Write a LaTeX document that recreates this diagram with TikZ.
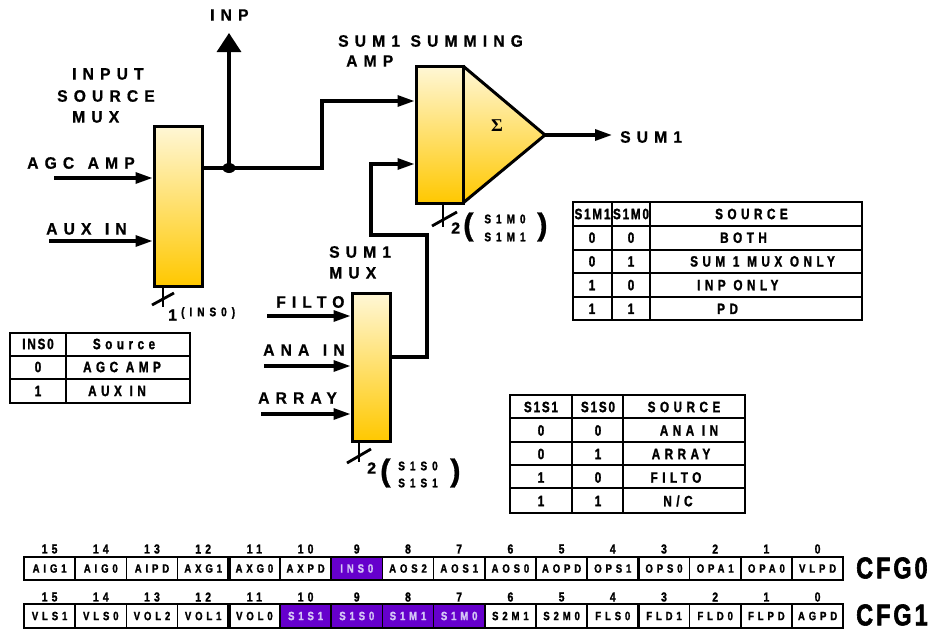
\documentclass[tikz,border=0pt]{standalone}
\usepackage{fontspec}
\setmainfont{Liberation Sans}
\newfontfamily\lblfam[LetterSpace=37,FakeStretch=0.95,FakeBold=0.8]{Liberation Sans Bold}
\newfontfamily\tblfam[LetterSpace=12,FakeStretch=0.78,FakeBold=1.5]{Liberation Sans Bold}
\newfontfamily\tbwfam[LetterSpace=30,FakeStretch=0.78,FakeBold=1.5]{Liberation Sans Bold}
\newfontfamily\regfam[LetterSpace=32,FakeStretch=0.8,FakeBold=1.5]{Liberation Sans Bold}
\newfontfamily\busfam[LetterSpace=40,FakeStretch=0.8,FakeBold=1.5]{Liberation Sans Bold}
\newfontfamily\cfgfam[LetterSpace=10,FakeStretch=0.78,FakeBold=2]{Liberation Sans Bold}
\newfontfamily\boldfam[FakeBold=1]{Liberation Sans Bold}
\newfontfamily\serfam{Liberation Serif Bold}
\newcommand\fLbl{\lblfam\fontsize{16.5}{18}\selectfont}
\newcommand\fTbl{\tblfam\fontsize{15}{16}\selectfont}
\newcommand\fTbw{\tbwfam\fontsize{15}{16}\selectfont}
\newcommand\fReg{\regfam\fontsize{12}{13}\selectfont}
\newcommand\fNum{\regfam\fontsize{13}{14}\selectfont}
\newcommand\fCfg{\cfgfam\fontsize{30}{31}\selectfont}
\newcommand\fBus{\busfam\fontsize{12.5}{14}\selectfont}
\newcommand\fBig{\boldfam\fontsize{16}{17}\selectfont}
\newcommand\fPar{\boldfam\fontsize{31}{31}\selectfont}
\usetikzlibrary{arrows.meta}
\definecolor{goldlt}{HTML}{FFF7D6}
\definecolor{golddk}{HTML}{FFC800}
\definecolor{purp}{HTML}{6600CC}
\definecolor{lav}{HTML}{D4C4F6}
\tikzset{
  muxbox/.style={draw, line width=3pt, top color=goldlt, bottom color=golddk, inner sep=0pt},
  wire/.style={line width=3.2pt},
  arr/.style={wire, -{Triangle[length=17pt,width=11pt]}},
  lbl/.style={font=\fLbl, inner sep=0pt},
  tbl/.style={font=\fTbl, inner sep=0pt},
  tbw/.style={font=\fTbw, inner sep=0pt},
  tline/.style={line width=2.2pt},
  bus/.style={line width=2.8pt},
  regcell/.style={draw, line width=1.5pt, minimum width=51.2pt, inner sep=0pt, font=\fReg},
}
\begin{document}
\begin{tikzpicture}[x=1pt,y=-1pt]
\useasboundingbox (0,0) rectangle (933,630);

% ---- summing amp
\coordinate (tip) at (545,135);
\shade[top color=goldlt, bottom color=golddk] (463,66) -- (tip) -- (463,203) -- cycle;
\draw[line width=3pt, line join=miter] (463,66) -- (tip) -- (463,203);
\node[muxbox, minimum width=47pt, minimum height=137pt] (amp) at (439.5,134.5) {};
\node (sig) at (497,126) {\serfam\fontsize{18}{18}\selectfont Σ};

% ---- muxes
\node[muxbox, minimum width=48pt, minimum height=160pt] (mux1) at (178,206) {};
\node[muxbox, minimum width=38pt, minimum height=148pt] (mux2) at (371,367) {};

% ---- titles
\node[lbl, anchor=west] (inp) at (210,15) {INP};
\node[lbl, anchor=west] (t1a) at (72,74) {INPUT};
\node[lbl, anchor=west] (t1b) at (57,96) {SOURCE};
\node[lbl, anchor=west] (t1c) at (72,117) {MUX};
\node[lbl, anchor=west] (t2a) at (338,41) {SUM1 SUMMING};
\node[lbl, anchor=west] (t2b) at (346,61) {AMP};
\node[lbl, anchor=west] (t3a) at (329,252) {SUM1};
\node[lbl, anchor=west] (t3b) at (329,273) {MUX};
\node[lbl, anchor=west] (lagc) at (27,163) {AGC\hspace{3pt} AMP};
\node[lbl, anchor=west] (laux) at (46,229) {AUX\hspace{3pt} IN};
\node[lbl, anchor=west] (lfil) at (276,302) {FILTO};
\node[lbl, anchor=west] (lana) at (263,350) {ANA\hspace{3pt} IN};
\node[lbl, anchor=west] (larr) at (258,398) {ARRAY};
\node[lbl, anchor=west] (lsum) at (620,137) {SUM1};

% ---- free ends
\coordinate (agcS) at (54,178);
\coordinate (auxS) at (49,241);
\coordinate (filS) at (267,316);
\coordinate (anaS) at (264,366);
\coordinate (arrS) at (261,414);
\coordinate (dotc) at (229,168);
\coordinate (inpE) at (229,33);
\coordinate (b1) at (322,101);
\coordinate (m2y) at (0,357);
\coordinate (k1) at (427,235);
\coordinate (k2) at (371,164);
\coordinate (sumE) at (612,135);

% ---- connectors
\draw[arr] (agcS) -- (agcS -| mux1.west);
\draw[arr] (auxS) -- (auxS -| mux1.west);
\draw[arr] (filS) -- (filS -| mux2.west);
\draw[arr] (anaS) -- (anaS -| mux2.west);
\draw[arr] (arrS) -- (arrS -| mux2.west);
\draw[arr, line join=miter] (mux1.east |- dotc) -| (b1) -- (b1 -| amp.west);
\draw[wire, -{Triangle[length=19pt,width=24pt]}] (dotc) -- (inpE);
\fill (dotc) ellipse (6.5pt and 5pt);
\draw[arr, line join=miter] (mux2.east |- m2y) -| (k1) -- (k1 -| k2) -- (k2) -- (k2 -| amp.west);
\draw[arr] (tip) -- (sumE);

% ---- bus marks
\draw[bus] (163,286) -- (163,307);
\draw[bus] (152,305) -- (174,293);
\node[inner sep=0pt, anchor=west, font=\fBig] (n1) at (168,315) {1};
\node[inner sep=0pt, anchor=west, font=\fBus] (n1b) at (181,313) {(INS0)};

\draw[bus] (443,203) -- (443,227);
\draw[bus] (432,226) -- (457,212);
\node[inner sep=0pt, anchor=west, font=\fBig] (n2) at (451,228) {2};
\node[inner sep=0pt, anchor=west, font=\fPar] (p2a) at (463,227) {(};
\node[inner sep=0pt, font=\fBus] (n2a) at (505,219) {S1M0};
\node[inner sep=0pt, font=\fBus] (n2b) at (505,237) {S1M1};
\node[inner sep=0pt, anchor=west, font=\fPar] (p2b) at (537,227) {)};

\draw[bus] (359,441) -- (359,462);
\draw[bus] (347,463) -- (371,449);
\node[inner sep=0pt, anchor=west, font=\fBig] (n3) at (367,468) {2};
\node[inner sep=0pt, anchor=west, font=\fPar] (p3a) at (380,473) {(};
\node[inner sep=0pt, font=\fBus] (n3a) at (418,466) {S1S0};
\node[inner sep=0pt, font=\fBus] (n3b) at (418,483) {S1S1};
\node[inner sep=0pt, anchor=west, font=\fPar] (p3b) at (450,473) {)};

% ---- INS0 table
\draw[tline] (10,333) rectangle (190,403);
\draw[tline] (10,356) -- (190,356) (10,379) -- (190,379) (66,333) -- (66,403);
\node[tbl] (ia) at (38,344) {INS0};
\node[tbw] (ib) at (124,344) {Source};
\node[tbl] (ic) at (38,367) {0};
\node[tbw] (id) at (122,367) {AGC AMP};
\node[tbl] (ie) at (38,391) {1};
\node[tbw] (iff) at (117,391) {AUX IN};

% ---- S1M table
\draw[tline] (573,202) rectangle (862,320);
\foreach \yy in {226,250,273,297} \draw[tline] (573,\yy) -- (862,\yy);
\draw[tline] (612,202) -- (612,320) (650,202) -- (650,320);
\node[tbl] (ma) at (592.5,214) {S1M1};
\node[tbl] (mb) at (631,214) {S1M0};
\node[tbw, anchor=west] (mc) at (715,214) {SOURCE};
\foreach \r/\a/\b/\x/\t in {1/0/0/720/BOTH, 2/0/1/690/SUM 1 MUX ONLY, 3/1/0/697/INP ONLY, 4/1/1/717/PD}{
  \node[tbl] (ma\r) at (592,{214+23.7*\r}) {\a};
  \node[tbl] (mb\r) at (631,{214+23.7*\r}) {\b};
  \node[tbw, anchor=west] (mc\r) at (\x,{214+23.7*\r}) {\t};
}

% ---- S1S table
\draw[tline] (510,395) rectangle (745,513);
\foreach \yy in {418,442,465,488} \draw[tline] (510,\yy) -- (745,\yy);
\draw[tline] (572,395) -- (572,513) (623,395) -- (623,513);
\node[tbl] (sa) at (541,407) {S1S1};
\node[tbl] (sb) at (598,407) {S1S0};
\node[tbw] (sc) at (684,407) {SOURCE};
\foreach \r/\a/\b/\x/\t in {1/0/0/689/ANA IN, 2/0/1/681/ARRAY, 3/1/0/676/FILTO, 4/1/1/678/{N/C}}{
  \node[tbl] (sa\r) at (541,{407+23.5*\r}) {\a};
  \node[tbl] (sb\r) at (598,{407+23.5*\r}) {\b};
  \node[tbw] (sc\r) at (\x,{407+23.5*\r}) {\t};
}

% ---- registers
\foreach \i/\t/\fc/\tc in {0/AIG1/white/black,1/AIG0/white/black,2/AIPD/white/black,3/AXG1/white/black,
  4/AXG0/white/black,5/AXPD/white/black,6/INS0/purp/lav,7/AOS2/white/black,8/AOS1/white/black,
  9/AOS0/white/black,10/AOPD/white/black,11/OPS1/white/black,12/OPS0/white/black,13/OPA1/white/black,
  14/OPA0/white/black,15/VLPD/white/black}{
  \pgfmathtruncatemacro\bit{15-\i}
  \node[regcell, minimum height=23pt, fill=\fc, text=\tc] (ca\i) at ({49.6+51.2*\i},568.5) {\t};
  \node[inner sep=0pt, font=\fNum] (na\i) at ({49.6+51.2*\i},549) {\bit};
}
\foreach \i/\t/\fc/\tc in {0/VLS1/white/black,1/VLS0/white/black,2/VOL2/white/black,3/VOL1/white/black,
  4/VOL0/white/black,5/S1S1/purp/lav,6/S1S0/purp/lav,7/S1M1/purp/lav,8/S1M0/purp/lav,
  9/S2M1/white/black,10/S2M0/white/black,11/FLS0/white/black,12/FLD1/white/black,13/FLD0/white/black,
  14/FLPD/white/black,15/AGPD/white/black}{
  \pgfmathtruncatemacro\bit{15-\i}
  \node[regcell, minimum height=24pt, fill=\fc, text=\tc] (cb\i) at ({49.6+51.2*\i},616) {\t};
  \node[inner sep=0pt, font=\fNum] (nb\i) at ({49.6+51.2*\i},597) {\bit};
}
\foreach \k in {4,12}{
  \draw[line width=3.5pt] ({24+51.2*\k},557) -- ({24+51.2*\k},580);
  \draw[line width=3.5pt] ({24+51.2*\k},604) -- ({24+51.2*\k},628);
}
\node[font=\fCfg, anchor=west, inner sep=0pt] (cfg0) at (856,568) {CFG0};
\node[font=\fCfg, anchor=west, inner sep=0pt] (cfg1) at (856,615) {CFG1};
\end{tikzpicture}
\end{document}
